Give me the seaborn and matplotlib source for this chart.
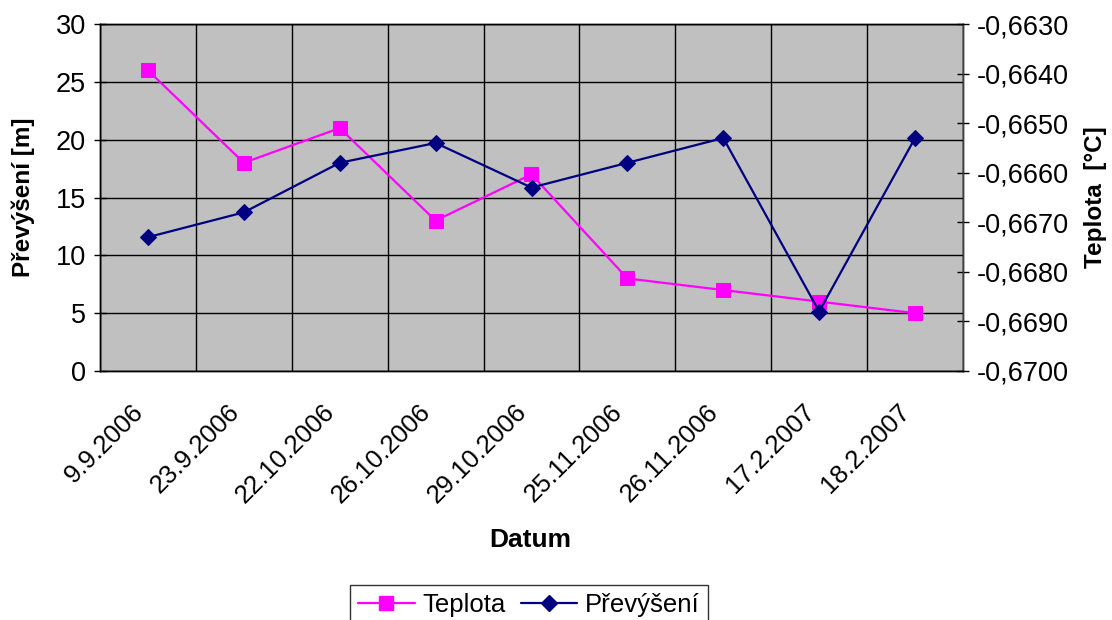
import numpy as np
import pandas as pd
import matplotlib
matplotlib.use("Agg")
import matplotlib.pyplot as plt
import seaborn as sns
from matplotlib.ticker import FixedLocator, FuncFormatter
from matplotlib.lines import Line2D

sns.set_style("white")
plt.rcParams["font.family"] = ["Liberation Sans", "DejaVu Sans"]
plt.rcParams.update({"text.color": "black", "axes.labelcolor": "black",
                     "xtick.color": "black", "ytick.color": "black"})

dates = ["9.9.2006", "23.9.2006", "22.10.2006", "26.10.2006", "29.10.2006",
         "25.11.2006", "26.11.2006", "17.2.2007", "18.2.2007"]
teplota = [26, 18, 21, 13, 17, 8, 7, 6, 5]
prevyseni = [-0.6673, -0.6668, -0.6658, -0.6654, -0.6663, -0.6658, -0.6653, -0.6688, -0.6653]

df = pd.DataFrame({"idx": np.arange(len(dates)), "datum": dates,
                   "Teplota": teplota, "Převýšení": prevyseni})

magenta = "#FF00FF"
navy = "#000080"
tick_fs = 19.5

fig = plt.figure(figsize=(11.12, 6.2), dpi=100)
ax = fig.add_axes([100 / 1112, 1 - 371 / 620, (963 - 100) / 1112, (371 - 24) / 620])
ax.set_facecolor("#C0C0C0")
ax2 = ax.twinx()

sns.lineplot(data=df, x="idx", y="Teplota", ax=ax, color=magenta, marker="s",
             markersize=10, markeredgecolor=magenta, linewidth=1.6, sort=False)
sns.lineplot(data=df, x="idx", y="Převýšení", ax=ax2, color=navy, marker="D",
             markersize=8.5, markeredgecolor=navy, linewidth=1.6, sort=False)

ax.set_xlim(-0.5, len(dates) - 0.5)
ax.set_ylim(0, 30)
ax2.set_ylim(-0.6700, -0.6630)
ax.set_yticks(np.arange(0, 31, 5))
ax2.set_yticks(np.round(np.arange(-0.6700, -0.6629, 0.001), 4))
ax2.yaxis.set_major_formatter(FuncFormatter(lambda v, p: f"{v:.4f}".replace(".", ",")))

# category labels at centres, tick marks and grid at category boundaries
ax.set_xticks(np.arange(len(dates)))
ax.set_xticklabels(dates, rotation=45, ha="right", va="bottom", rotation_mode="anchor",
                   fontsize=18.5, color="black")
ax.xaxis.set_minor_locator(FixedLocator(np.arange(-0.5, len(dates), 1.0)))
ax.tick_params(axis="x", which="major", length=0, pad=33)
ax.tick_params(axis="x", which="minor", length=8, direction="inout", width=1, color="black")
ax.grid(True, axis="x", which="minor", color="black", linewidth=1)
ax.grid(True, axis="y", which="major", color="black", linewidth=1)
ax.set_axisbelow(True)

ax.tick_params(axis="y", labelsize=tick_fs, length=8, direction="inout", width=1, color="black",
               labelcolor="black", left=True, pad=6)
ax2.tick_params(axis="y", labelsize=tick_fs, length=8, direction="inout", width=1, color="black",
                labelcolor="black", right=True, pad=6)
for a in (ax, ax2):
    for s in a.spines.values():
        s.set_color("black")
        s.set_linewidth(1)
ax2.spines["right"].set_color("#404040")

ax.set_xlabel("Datum", fontsize=19, fontweight="bold", va="center", color="black")
ax.xaxis.set_label_coords(0.498, (371 - 540) / 347)
ax.set_ylabel("Převýšení [m]", fontsize=17.5, fontweight="bold", va="center", color="black")
ax.yaxis.set_label_coords((23 - 100) / 863, 0.5)
ax2.set_ylabel("Teplota  [°C]", fontsize=17.5, fontweight="bold", va="center", color="black")
ax2.yaxis.set_label_coords((1096 - 100) / 863, 0.5)

handles = [Line2D([], [], color=magenta, marker="s", markersize=10, linewidth=1.6),
           Line2D([], [], color=navy, marker="D", markersize=8.5, linewidth=1.6)]
leg = fig.legend(handles, ["Teplota", "Převýšení"], loc="upper center", ncol=2,
                 bbox_to_anchor=(529 / 1112, 1 - 585 / 620), fontsize=18.5, frameon=True,
                 fancybox=False, handlelength=2.2, handletextpad=0.3, columnspacing=0.6,
                 borderpad=0.3, borderaxespad=0)
leg.get_frame().set_edgecolor("black")
leg.get_frame().set_linewidth(1)
for t in leg.get_texts():
    t.set_color("black")

fig.savefig("out.png", dpi=100)
